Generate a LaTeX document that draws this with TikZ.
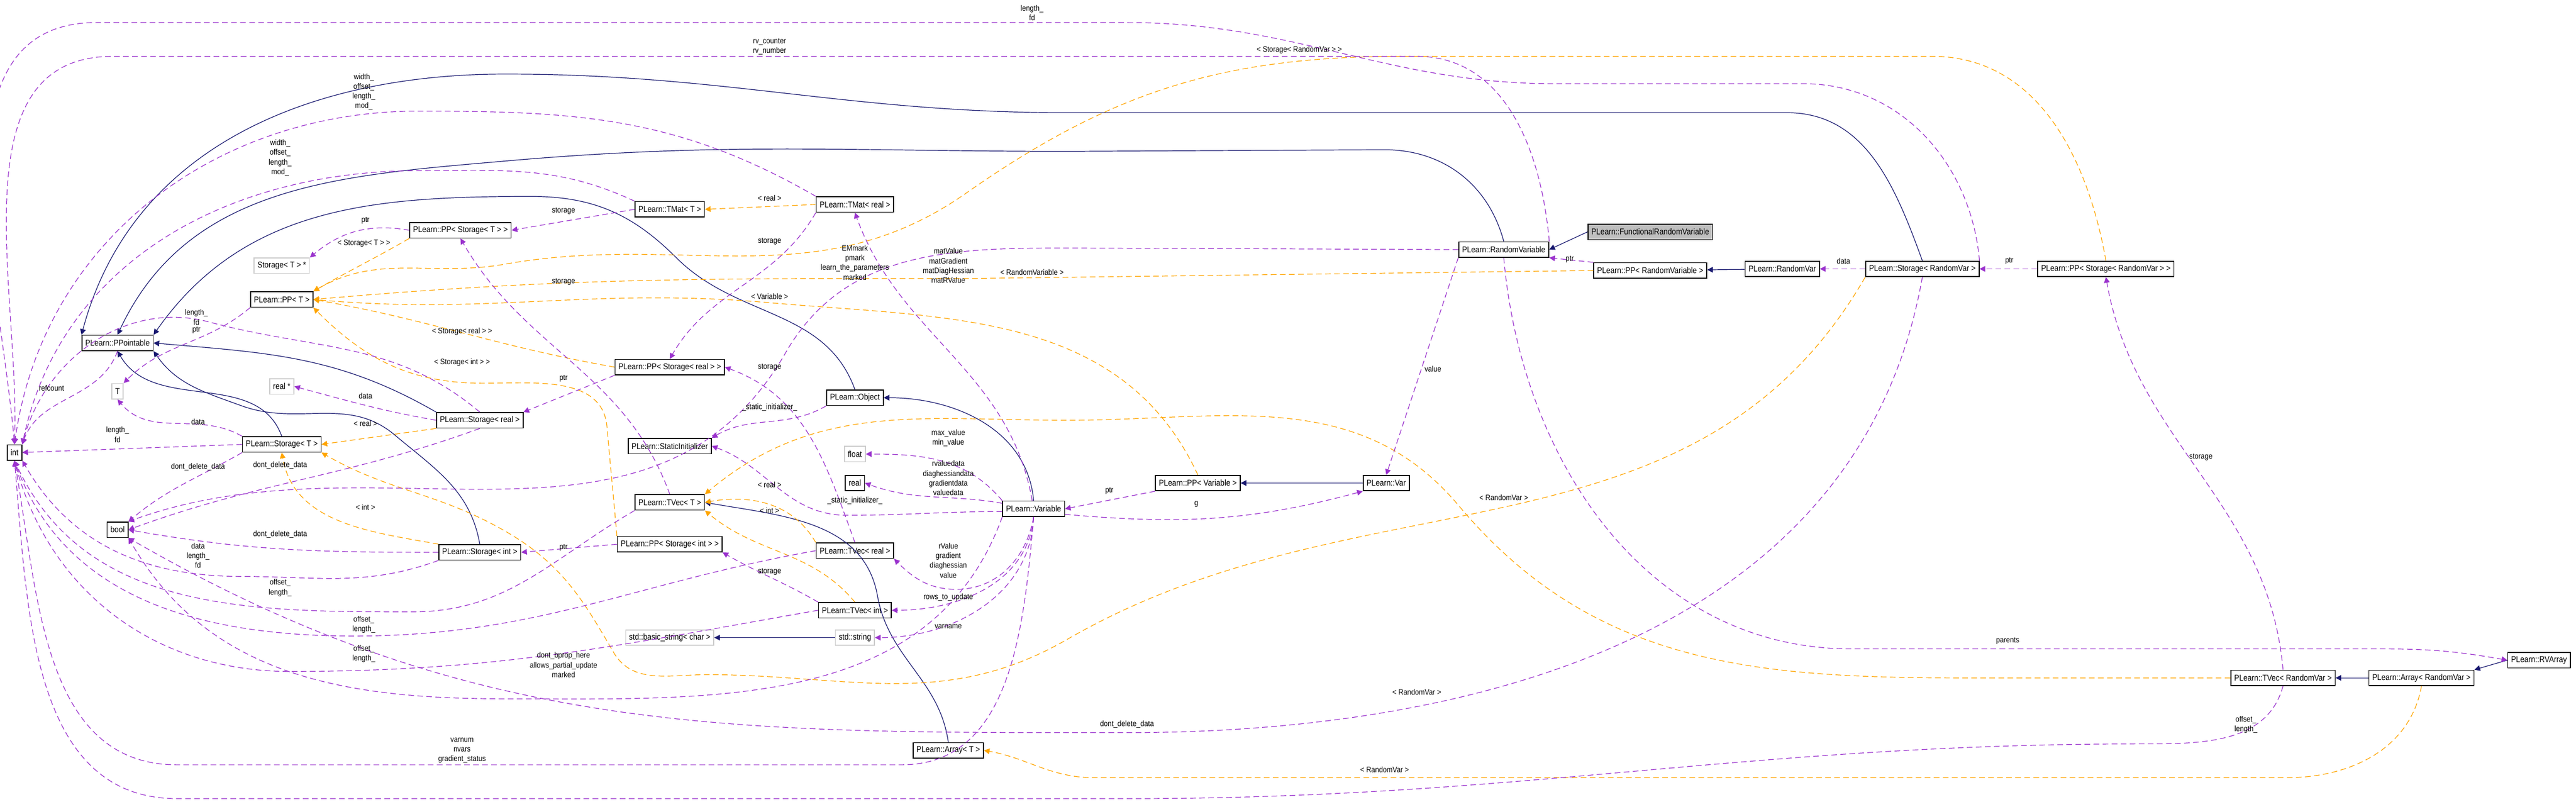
\documentclass[tikz,border=0pt]{standalone}
\usepackage{fontspec}
\setmainfont{Liberation Sans}[FakeStretch=0.88]
\usetikzlibrary{arrows.meta, positioning}
\definecolor{edgenavy}{HTML}{191970}
\definecolor{usepurple}{HTML}{9A32CD}
\definecolor{tplorange}{HTML}{FFA500}
\tikzset{
  cls/.style={rectangle, draw=black, line width=0.8pt, fill=white, minimum height=0.48cm, inner xsep=3pt, inner ysep=1pt, font=\fontsize{7.5}{8}\selectfont},
  extcls/.style={cls, draw=gray!40},
  curcls/.style={cls, fill=gray!50},
  lab/.style={font=\fontsize{7}{8.6}\selectfont, align=center, inner sep=0.5pt},
  inh/.style={draw=edgenavy, line width=0.6pt, -{Triangle[length=5pt,width=5pt]}},
  usage/.style={draw=usepurple, line width=0.6pt, dash pattern=on 5pt off 3pt, -{Triangle[length=5pt,width=5pt]}},
  tmpl/.style={draw=tplorange, line width=0.6pt, dash pattern=on 5pt off 3pt, -{Triangle[length=5pt,width=5pt]}}
}

\begin{document}
\begin{tikzpicture}[x=0.05cm, y=0.05cm]
\useasboundingbox (0,0) rectangle (1600,-498);
% Boxes
\node[curcls] (frv) at (1025,-144) {PLearn::FunctionalRandomVariable};
\node[cls] (rv) at (934,-155) {PLearn::RandomVariable};
\node[cls] (pprv) at (1025,-168) {PLearn::PP< RandomVariable >};
\node[cls] (rvar) at (1107,-167) {PLearn::RandomVar};
\node[cls] (strv) at (1194,-167) {PLearn::Storage< RandomVar >};
\node[cls] (ppstrv) at (1308,-167) {PLearn::PP< Storage< RandomVar > >};
\node[cls] (tmatr) at (531,-127) {PLearn::TMat< real >};
\node[cls] (tmatt) at (416,-130) {PLearn::TMat< T >};
\node[cls] (ppst) at (286,-143) {PLearn::PP< Storage< T > >};
\node[extcls] (stptr) at (175,-165) {Storage< T > *};
\node[cls] (ppt) at (175,-186) {PLearn::PP< T >};
\node[cls] (pptbl) at (73,-213) {PLearn::PPointable};
\node[extcls] (tt) at (73,-243) {T};
\node[extcls] (realptr) at (175,-240) {real *};
\node[cls] (streal) at (298,-261) {PLearn::Storage< real >};
\node[cls] (ppsreal) at (416,-228) {PLearn::PP< Storage< real > >};
\node[cls] (obj) at (531,-247) {PLearn::Object};
\node[cls] (stinit) at (416,-277) {PLearn::StaticInitializer};
\node[cls] (stt) at (175,-276) {PLearn::Storage< T >};
\node[cls] (int) at (9,-281) {int};
\node[extcls] (float) at (531,-282) {float};
\node[cls] (real) at (531,-300) {real};
\node[cls] (bool) at (73,-329) {bool};
\node[cls] (tvect) at (416,-312) {PLearn::TVec< T >};
\node[cls] (stint) at (298,-343) {PLearn::Storage< int >};
\node[cls] (ppsint) at (416,-338) {PLearn::PP< Storage< int > >};
\node[cls] (var) at (642,-316) {PLearn::Variable};
\node[cls] (ppvar) at (744,-300) {PLearn::PP< Variable >};
\node[cls] (varn) at (861,-300) {PLearn::Var};
\node[cls] (tvecr) at (531,-342) {PLearn::TVec< real >};
\node[cls] (tveci) at (531,-379) {PLearn::TVec< int >};
\node[extcls] (bstr) at (416,-396) {std::basic\_string< char >};
\node[extcls] (str) at (531,-396) {std::string};
\node[cls] (arrt) at (589,-466) {PLearn::Array< T >};
\node[cls] (tvecrv) at (1418,-421) {PLearn::TVec< RandomVar >};
\node[cls] (arrrv) at (1504,-421) {PLearn::Array< RandomVar >};
\node[cls] (rvarr) at (1577,-410) {PLearn::RVArray};

% Inheritance
\draw[inh] (frv.west) -- (rv.east);
\draw[inh] (rvar) -- (pprv);
\draw[inh] (varn) -- (ppvar);
\draw[inh] (str) -- (bstr);
\draw[inh] (arrrv) -- (tvecrv);
\draw[inh] (rvarr.west) -- (arrrv.north east);
\draw[inh] (var.north) to[out=95,in=0] (obj.east);
\draw[inh] (arrt.north) to[out=98,in=-80] (545,-370) to[out=100,in=-10] (tvect.east);
\draw[inh] (stt.north) to[out=110,in=-60] (pptbl.south);
\draw[inh] (streal.north west) to[out=150,in=-5] (pptbl.east);
\draw[inh] (stint.north) to[out=100,in=-40] (245,-270) to[out=140,in=-20] (150,-252) to[out=160,in=-55] (pptbl.south east);
\draw[inh] (obj.north) to[out=110,in=-45] (420,-160) to[out=135,in=0] (330,-122) to[out=180,in=55] (pptbl.north east);
\draw[inh] (rv.north) to[out=105,in=0] (860,-93) -- (663,-94) to[out=180,in=5] (314,-100) to[out=185,in=65] (pptbl.north);
\draw[inh] (strv.north) to[out=110,in=0] (1110,-70) -- (663,-70) to[out=180,in=0] (314,-46) to[out=180,in=75] (pptbl.north west);

% Templates
\draw[tmpl] (tmatr.west) -- (tmatt.east);
\draw[tmpl] (ppst.south west) to[out=-150,in=30] (ppt.north east);
\draw[tmpl] (ppsreal.west) to[out=170,in=-10] (ppt.east);
\draw[tmpl] (ppsint.north west) to[out=95,in=-85] (377,-265) to[out=95,in=0] (300,-238) to[out=180,in=-45] (ppt.south east);
\draw[tmpl] (ppvar.north) to[out=115,in=-5] (478,-188) to[out=175,in=-5] (ppt.east);
\draw[tmpl] (pprv.west) -- (600,-173) to[out=180,in=5] (ppt.east);
\draw[tmpl] (ppstrv.north) to[out=100,in=0] (1200,-35) -- (871,-35) to[out=180,in=35] (600,-120) to[out=215,in=10] (314,-164) to[out=190,in=30] (ppt.north east);
\draw[tmpl] (streal.south west) -- (stt.east);
\draw[tmpl] (stint.north west) to[out=170,in=-80] (stt.south);
\draw[tmpl] (strv.south west) to[out=-120,in=30] (663,-397) to[out=210,in=0] (439,-419) to[out=180,in=-60] (381,-405) to[out=120,in=-30] (314,-330) to[out=150,in=-30] (stt.south east);
\draw[tmpl] (tvecrv.west) -- (1220,-421) to[out=180,in=-50] (906,-314) to[out=130,in=0] (663,-261) to[out=180,in=40] (tvect.north east);
\draw[tmpl] (tvecr.north west) to[out=120,in=10] (tvect.east);
\draw[tmpl] (tveci.north) to[out=130,in=-40] (tvect.south east);
\draw[tmpl] (arrrv.south) to[out=-100,in=0] (1420,-483) -- (680,-483) to[out=180,in=-10] (arrt.east);

% Usage
\draw[usage] (strv.north east) to[out=95,in=0] (1120,-52) -- (966,-52) to[out=180,in=0] (700,-14) -- (60,-14) to[out=180,in=95] (int.north);
\draw[usage] (rv.north east) to[out=95,in=0] (880,-35) -- (70,-35) to[out=180,in=88] (int.north);
\draw[usage] (tmatr.north west) to[out=150,in=0] (260,-69) to[out=180,in=82] (int.north);
\draw[usage] (tmatt.north west) to[out=155,in=0] (260,-106) to[out=180,in=78] (int.north east);
\draw[usage] (streal.north) to[out=140,in=-15] (130,-200) to[out=165,in=75] (int.north east);
\draw[usage] (pptbl.south) to[out=-110,in=70] (int.north east);
\draw[usage] (stt.west) -- (int.east);
\draw[usage] (stint.south west) to[out=200,in=0] (150,-358) to[out=180,in=-60] (int.south east);
\draw[usage] (tvect.south west) to[out=210,in=0] (256,-380) to[out=180,in=-65] (int.south);
\draw[usage] (tvecr.west) to[out=190,in=0] (220,-395) to[out=180,in=-70] (int.south);
\draw[usage] (tveci.west) to[out=190,in=0] (180,-417) to[out=180,in=-75] (int.south);
\draw[usage] (var.south) to[out=-95,in=0] (560,-475) -- (110,-475) to[out=180,in=-80] (int.south);
\draw[usage] (tvecrv.south) to[out=-105,in=0] (1330,-462) to[out=180,in=0] (700,-496) -- (110,-496) to[out=180,in=-85] (int.south);
\draw[usage] (ppst.west) to[out=170,in=40] (stptr.north east);
\draw[usage] (ppt.south west) to[out=-140,in=45] (tt.north east);
\draw[usage] (stt.north west) to[out=150,in=-50] (tt.south);
\draw[usage] (stt.south west) to[out=-150,in=40] (bool.north east);
\draw[usage] (streal.west) to[out=170,in=-15] (realptr.east);
\draw[usage] (streal.south) to[out=-160,in=20] (bool.east);
\draw[usage] (stint.west) to[out=180,in=-10] (bool.east);
\draw[usage] (ppsreal.south west) -- (streal.north east);
\draw[usage] (ppsint.west) -- (stint.east);
\draw[usage] (tmatt.west) -- (ppst.east);
\draw[usage] (tvect.north) to[out=110,in=-60] (ppst.south);
\draw[usage] (tmatr.south west) to[out=-120,in=60] (ppsreal.north);
\draw[usage] (tvecr.north) to[out=110,in=-20] (ppsreal.east);
\draw[usage] (tveci.north west) to[out=150,in=-30] (ppsint.south east);
\draw[usage] (obj.south west) to[out=-150,in=30] (stinit.north east);
\draw[usage] (var.185) to[out=180,in=0] (526,-320) to[out=180,in=-20] (stinit.east);
\draw[usage] (var.north west) to[out=130,in=0] (float.east);
\draw[usage] (var.170) to[out=170,in=-20] (real.east);
\draw[usage] (var.south) to[out=-100,in=0] (594,-366) to[out=180,in=-45] (tvecr.south east);
\draw[usage] (var.south) to[out=-95,in=0] (tveci.east);
\draw[usage] (var.south) to[out=-92,in=0] (str.east);
\draw[usage] (var.south west) to[out=-110,in=0] (314,-434) to[out=180,in=-60] (bool.south east);
\draw[usage] (var.100) to[out=100,in=-70] (tmatr.south);
\draw[usage] (ppvar.south west) -- (var.east);
\draw[usage] (var.-10) to[out=-5,in=195] (varn.south west);
\draw[usage] (rv.south west) -- (varn.north);
\draw[usage] (rv.west) -- (663,-154) to[out=180,in=60] (488,-219) to[out=240,in=20] (bool.north east);
\draw[usage] (rv.south) to[out=-85,in=180] (1150,-403) -- (1480,-403) to[out=0,in=170] (rvarr.west);
\draw[usage] (pprv.north west) -- (rv.south east);
\draw[usage] (strv.west) -- (rvar.east);
\draw[usage] (ppstrv.west) -- (strv.east);
\draw[usage] (tvecrv.north) to[out=95,in=-80] (ppstrv.south);
\draw[usage] (strv.south) to[out=-100,in=0] (700,-455) to[out=180,in=-30] (bool.south east);

% Labels
\node[lab] (lLenFdTop) at (641,-8) {length\_\\fd};
\node[lab] (lRvCount) at (478,-29) {rv\_counter\\rv\_number};
\node[lab] (lStrvPPT) at (807,-31) {< Storage< RandomVar > >};
\node[lab] (lTmatrInt) at (226,-57) {width\_\\offset\_\\length\_\\mod\_};
\node[lab] (lTmattInt) at (174,-98) {width\_\\offset\_\\length\_\\mod\_};
\node[lab] (lTmatR) at (478,-123) {< real >};
\node[lab] (lTmattSt) at (350,-131) {storage};
\node[lab] (lPpstPtr) at (227,-137) {ptr};
\node[lab] (lPpstTpl) at (226,-151) {< Storage< T > >};
\node[lab] (lTmatrSt) at (478,-150) {storage};
\node[lab] (lEMmark) at (531,-163) {EMmark\\pmark\\learn\_the\_parameters\\marked};
\node[lab] (lMatVal) at (589,-165) {matValue\\matGradient\\matDiagHessian\\matRValue};
\node[lab] (lRandVarTpl) at (641,-169) {< RandomVariable >};
\node[lab] (lTvectSt) at (350,-175) {storage};
\node[lab] (lVarTpl) at (478,-184) {< Variable >};
\node[lab] (lStrLenFd) at (122,-197) {length\_\\fd};
\node[lab] (lPptPtr) at (122,-205) {ptr};
\node[lab] (lStRealTpl) at (287,-206) {< Storage< real > >};
\node[lab] (lStIntTpl) at (287,-225) {< Storage< int > >};
\node[lab] (lValue) at (890,-229) {value};
\node[lab] (lTvecrSt) at (478,-228) {storage};
\node[lab] (lPpsrPtr) at (350,-235) {ptr};
\node[lab] (lRefcount) at (32,-241) {refcount};
\node[lab] (lRealData) at (227,-246) {data};
\node[lab] (lObjInit) at (478,-253) {\_static\_initializer\_};
\node[lab] (lSttData) at (123,-262) {data};
\node[lab] (lRealTpl) at (227,-263) {< real >};
\node[lab] (lSttLen) at (73,-270) {length\_\\fd};
\node[lab] (lMinMax) at (589,-272) {max\_value\\min\_value};
\node[lab] (lStrvRvar) at (1145,-162) {data};
\node[lab] (lPpstrvPtr) at (1248,-162) {ptr};
\node[lab] (lPprvPtr) at (975,-161) {ptr};
\node[lab] (lStrvSt) at (1367,-284) {storage};
\node[lab] (lSttDdd) at (123,-290) {dont\_delete\_data};
\node[lab] (lRealDdd) at (174,-289) {dont\_delete\_data};
\node[lab] (lValData) at (589,-297) {rvaluedata\\diaghessiandata\\gradientdata\\valuedata};
\node[lab] (lTvecrTpl) at (478,-301) {< real >};
\node[lab] (lPpvarPtr) at (689,-305) {ptr};
\node[lab] (lRvTpl) at (934,-309) {< RandomVar >};
\node[lab] (lVarInit) at (531,-311) {\_static\_initializer\_};
\node[lab] (lG) at (743,-313) {g};
\node[lab] (lIntTpl) at (227,-315) {< int >};
\node[lab] (lTveciTpl) at (478,-317) {< int >};
\node[lab] (lIntDdd) at (174,-332) {dont\_delete\_data};
\node[lab] (lPpsiPtr) at (350,-340) {ptr};
\node[lab] (lStIntInt) at (123,-345) {data\\length\_\\fd};
\node[lab] (lRValue) at (589,-348) {rValue\\gradient\\diaghessian\\value};
\node[lab] (lTveciSt) at (478,-355) {storage};
\node[lab] (lTvectOff) at (174,-365) {offset\_\\length\_};
\node[lab] (lRows) at (589,-371) {rows\_to\_update};
\node[lab] (lTvecrOff) at (226,-388) {offset\_\\length\_};
\node[lab] (lVarname) at (589,-389) {varname};
\node[lab] (lParents) at (1247,-398) {parents};
\node[lab] (lTveciOff) at (226,-406) {offset\_\\length\_};
\node[lab] (lBprop) at (350,-413) {dont\_bprop\_here\\allows\_partial\_update\\marked};
\node[lab] (lStrvTpl) at (880,-430) {< RandomVar >};
\node[lab] (lStrvDdd) at (700,-450) {dont\_delete\_data};
\node[lab] (lTvecrvOff) at (1395,-450) {offset\_\\length\_};
\node[lab] (lVarnum) at (287,-466) {varnum\\nvars\\gradient\_status};
\node[lab] (lArrTpl) at (860,-478) {< RandomVar >};
\end{tikzpicture}
\end{document}
